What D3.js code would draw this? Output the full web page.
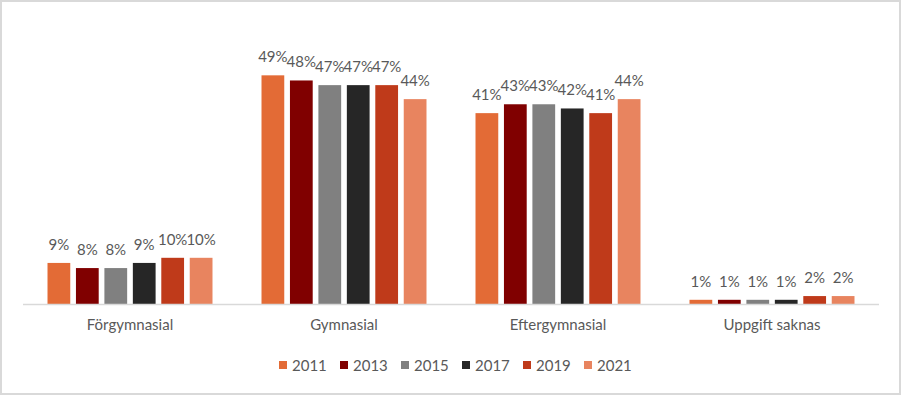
<!DOCTYPE html>
<html>
<head>
<meta charset="utf-8">
<script src="https://cdn.jsdelivr.net/npm/d3@7"></script>
<style>
  body { margin: 0; background: #fff; }
  text { font-family: Lato, "Open Sans", sans-serif; fill: #595959; }
</style>
</head>
<body>
<div id="chart"></div>
<script>
// DATA
////////////////////////////
var categories = ["Förgymnasial", "Gymnasial", "Eftergymnasial", "Uppgift saknas"];
var years = ["2011", "2013", "2015", "2017", "2019", "2021"];
// share per year, one array per category
var forgymnasial   = [0.088, 0.077, 0.077, 0.088, 0.099, 0.099];
var gymnasial      = [0.490, 0.479, 0.469, 0.469, 0.469, 0.439];
var eftergymnasial = [0.409, 0.428, 0.428, 0.419, 0.409, 0.439];
var uppgift        = [0.009, 0.009, 0.009, 0.009, 0.017, 0.017];
var colors = ["#e36b36", "#800000", "#808080", "#262626", "#bf3a1a", "#e8845f"];

var values = [forgymnasial, gymnasial, eftergymnasial, uppgift];

// SETUP
////////////////////////////
var width = 902,
    height = 396;

var svg = d3.select("#chart").append("svg")
    .attr("width", width)
    .attr("height", height);

// chart border
svg.append("rect")
    .attr("x", 1).attr("y", 1)
    .attr("width", 899).attr("height", 393)
    .attr("fill", "#fff")
    .attr("stroke", "#d9d9d9")
    .attr("stroke-width", 2);

var x0 = d3.scaleBand()
    .domain(categories)
    .range([23, 879])
    .paddingInner(0.229)
    .paddingOuter(0.1145);

var x1 = d3.scaleBand()
    .domain(years)
    .range([0, x0.bandwidth()])
    .paddingInner(0.2);

var y = d3.scaleLinear()
    .domain([0, 0.6])
    .range([304, 24]);

var groups = svg.selectAll("g.cat")
    .data(categories)
    .enter().append("g")
      .attr("class", "cat")
      .attr("transform", function(d) { return "translate(" + x0(d) + ",0)"; });

groups.selectAll("rect")
    .data(function(d, i) { return values[i].map(function(v, j) { return {year: years[j], v: v, c: colors[j]}; }); })
    .enter().append("rect")
      .attr("x", function(d) { return x1(d.year); })
      .attr("y", function(d) { return y(d.v); })
      .attr("width", x1.bandwidth())
      .attr("height", function(d) { return y(0) - y(d.v); })
      .attr("fill", function(d) { return d.c; });

groups.selectAll("text.lbl")
    .data(function(d, i) { return values[i].map(function(v, j) { return {year: years[j], v: v}; }); })
    .enter().append("text")
      .attr("class", "lbl")
      .attr("x", function(d) { return x1(d.year) + x1.bandwidth() / 2; })
      .attr("y", function(d) { return y(d.v) - 13; })
      .attr("text-anchor", "middle")
      .style("font-size", "15px")
      .text(function(d) { return Math.round(d.v * 100) + "%"; });

// axis line
svg.append("line")
    .attr("x1", 23).attr("x2", 879)
    .attr("y1", y(0) + 0.5).attr("y2", y(0) + 0.5)
    .attr("stroke", "#d9d9d9")
    .attr("stroke-width", 1.5);

// category labels
svg.selectAll("text.cat")
    .data(categories)
    .enter().append("text")
      .attr("class", "cat")
      .attr("x", function(d) { return x0(d) + x0.bandwidth() / 2; })
      .attr("y", 330)
      .attr("text-anchor", "middle")
      .style("font-size", "15px")
      .text(function(d) { return d; });

// legend
var legend = svg.selectAll("g.legend")
    .data(years)
    .enter().append("g")
      .attr("class", "legend")
      .attr("transform", function(d, i) { return "translate(" + (279 + i * 61) + ",361)"; });

legend.append("rect")
    .attr("width", 8).attr("height", 8)
    .attr("fill", function(d, i) { return colors[i]; });

legend.append("text")
    .attr("x", 13)
    .attr("y", 10)
    .style("font-size", "15px")
    .text(function(d) { return d; });
</script>
</body>
</html>
